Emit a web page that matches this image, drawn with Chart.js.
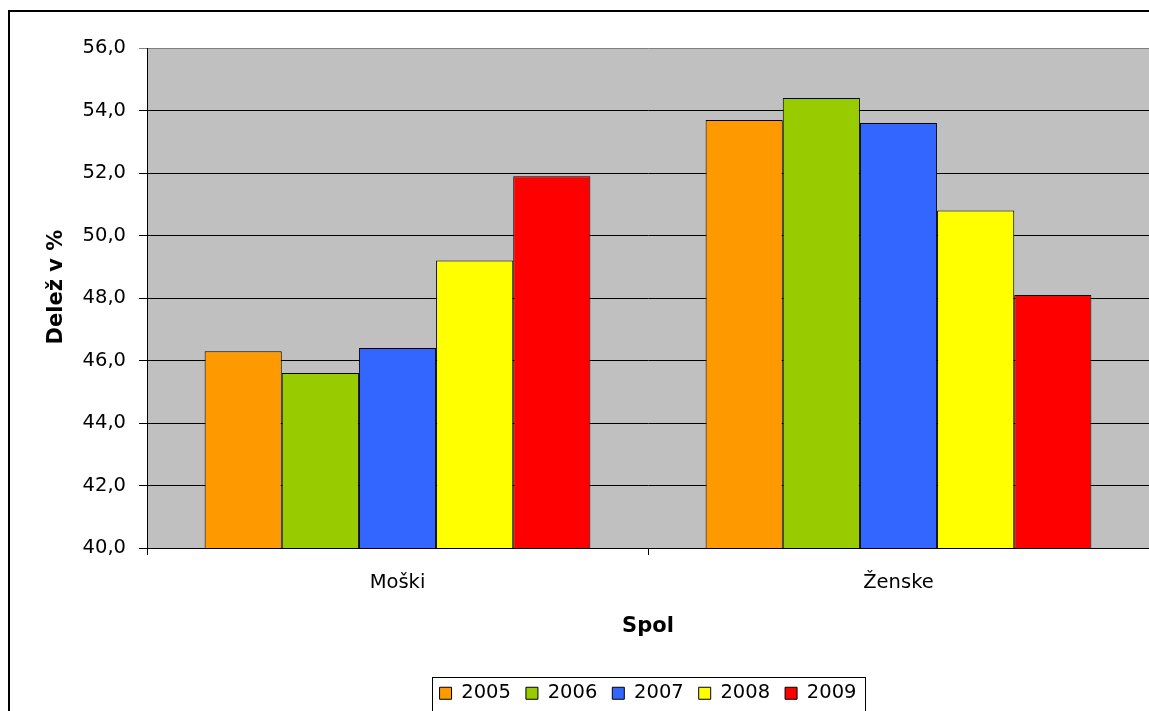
<!DOCTYPE html>
<html>
<head>
<meta charset="utf-8">
<title>Delež po spolu</title>
<script src="https://cdn.jsdelivr.net/npm/chart.js@4/dist/chart.umd.min.js"></script>
<style>
  html, body { margin: 0; padding: 0; background: #ffffff; }
  #wrap { width: 1149px; height: 711px; }
</style>
</head>
<body>
<div id="wrap"><canvas id="chart" width="1149" height="711"></canvas></div>
<script>
// Categories and yearly shares (%)
const categories = ['Moški', 'Ženske'];
const years = ['2005', '2006', '2007', '2008', '2009'];
const share2005 = [46.3, 53.7];
const share2006 = [45.6, 54.4];
const share2007 = [46.4, 53.6];
const share2008 = [49.2, 50.8];
const share2009 = [51.9, 48.1];
const yMin = 40, yMax = 56, yStep = 2;

const seriesValues = [share2005, share2006, share2007, share2008, share2009];
const seriesColors = ['#FF9900', '#99CC00', '#3366FF', '#FFFF00', '#FF0000'];

Chart.defaults.font.family = "'DejaVu Sans', Verdana, sans-serif";
Chart.defaults.color = '#000000';

// Grey plot background and the outer frame
const frame = {
  id: 'frame',
  beforeDraw(chart) {
    const { ctx, chartArea: a } = chart;
    ctx.save();
    ctx.fillStyle = '#C0C0C0';
    ctx.fillRect(a.left, a.top, a.right - a.left, a.bottom - a.top);
    ctx.restore();
  },
  afterDraw(chart) {
    const ctx = chart.ctx;
    ctx.save();
    ctx.strokeStyle = '#000000';
    ctx.lineWidth = 2;
    ctx.strokeRect(9, 11, 1400, 1000);
    // legend frame
    const boxes = chart.legend && chart.legend.legendHitBoxes;
    if (boxes && boxes.length) {
      let l = Infinity, r = -Infinity, t = Infinity;
      boxes.forEach(b => { l = Math.min(l, b.left); r = Math.max(r, b.left + b.width); t = Math.min(t, b.top); });
      ctx.lineWidth = 1;
      ctx.strokeRect(Math.round(l - 8) + 0.5, Math.round(t - 7) + 0.5, Math.round(r - l + 16), 200);
    }
    ctx.restore();
  }
};

new Chart(document.getElementById('chart'), {
  type: 'bar',
  data: {
    labels: categories,
    datasets: years.map((y, i) => ({
      label: y,
      data: seriesValues[i],
      backgroundColor: seriesColors[i],
      borderColor: '#000000',
      borderWidth: 1,
      barPercentage: 1.0,
      categoryPercentage: 0.77
    }))
  },
  options: {
    responsive: false,
    animation: false,
    layout: { padding: { top: 48, left: 0, right: 0, bottom: -2 } },
    plugins: {
      tooltip: { enabled: false },
      legend: {
        position: 'bottom',
        fullSize: false,
        labels: {
          boxWidth: 12,
          boxHeight: 12,
          padding: 15,
          color: '#000000',
          font: { size: 19.5 }
        }
      }
    },
    scales: {
      x: {
        grid: {
          offset: true,
          drawOnChartArea: false,
          drawTicks: true,
          tickLength: 7,
          color: '#000000'
        },
        border: { color: '#000000', width: 1 },
        ticks: { padding: 16, font: { size: 19.5 }, color: '#000000' },
        title: {
          display: true,
          text: 'Spol',
          font: { size: 21, weight: 'bold' },
          color: '#000000',
          padding: { top: 0, bottom: 29 }
        },
        afterFit(scale) { scale.height = 120.5; }
      },
      y: {
        min: yMin,
        max: yMax,
        grid: {
          tickLength: 8,
          color: ctx => (ctx.tick && ctx.tick.value === yMax ? '#808080' : '#000000')
        },
        border: { color: '#000000', width: 1 },
        ticks: {
          stepSize: yStep,
          padding: 13,
          color: '#000000',
          font: { size: 19.5 },
          callback: v => Number(v).toFixed(1).replace('.', ',')
        },
        title: {
          display: true,
          text: '   Delež v %',
          font: { size: 21, weight: 'bold' },
          color: '#000000',
          padding: { top: 44, bottom: 0 }
        },
        afterFit(scale) { scale.width = 147; }
      }
    }
  },
  plugins: [frame]
});
</script>
</body>
</html>
